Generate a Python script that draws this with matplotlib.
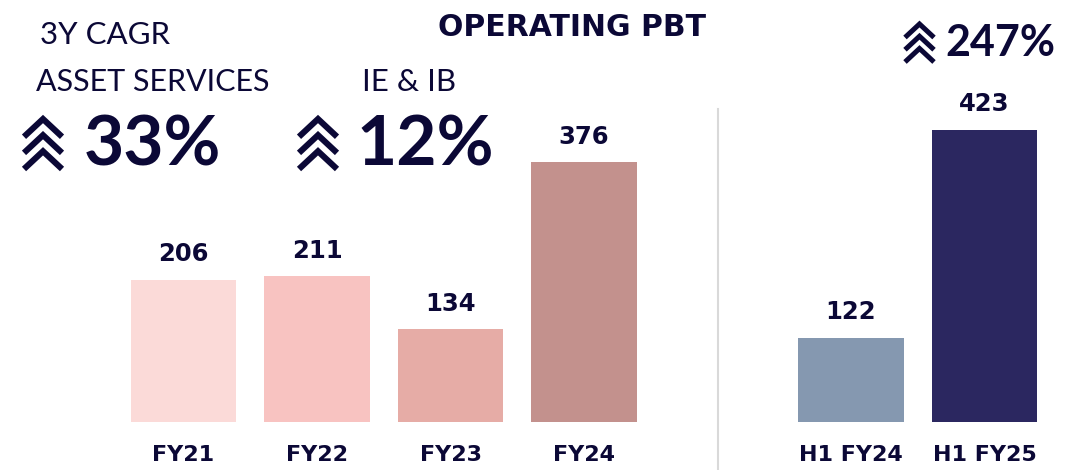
import matplotlib.pyplot as plt
from matplotlib.lines import Line2D

# data
categories = ['FY21', 'FY22', 'FY23', 'FY24', 'H1 FY24', 'H1 FY25']
values = [206, 211, 134, 376, 122, 423]
positions = [0, 1, 2, 3, 5, 6]
colors = ['#FBDAD8', '#F8C3C1', '#E6ACA6', '#C3918D', '#8598B0', '#2B2760']
cagr_labels = ['33%', '12%', '247%']

navy = '#0b0836'
W, H = 1084, 470

fig = plt.figure(figsize=(W / 100, H / 100), dpi=100)
ax = fig.add_axes([0, 0, 1, 1])
ax.set_xlim(-1.375, 6.745)
ax.set_ylim(-69.5, 610.7)
ax.axis('off')

ax.bar(positions, values, width=0.79, color=colors)

for p, v, c in zip(positions, values, categories):
    ax.text(p, v + 27, str(v), ha='center', va='baseline', fontsize=17.5,
            fontweight='bold', color=navy, family='DejaVu Sans')
    ax.text(p, -48, c, ha='center', va='center', fontsize=16,
            fontweight='bold', color=navy, family='DejaVu Sans')

# separator between annual and half-year bars
ax.plot([4, 4], [-69.5, 453], color='#D9D9D9', lw=1.5)


def px(x, y):
    return x / W, 1 - y / H


def chevrons(x0, y0, w, h, lw=4.4):
    # three stacked up-chevrons, x0/y0 top-left in pixels
    step = h / 3.1
    arm = h - 2 * step
    for i in range(3):
        top = y0 + i * step
        xs = [x0, x0 + w / 2, x0 + w]
        ys = [top + arm, top, top + arm]
        pts = [px(a, b) for a, b in zip(xs, ys)]
        fig.add_artist(Line2D([q[0] for q in pts], [q[1] for q in pts],
                              transform=fig.transFigure, color=navy, lw=lw,
                              solid_joinstyle='miter', solid_capstyle='butt'))


def ftext(x, y, s, size, weight='normal', ha='left', family='Lato'):
    fig.text(x / W, 1 - y / H, s, ha=ha, va='center', fontsize=size,
             fontweight=weight, color=navy, family=family)


ftext(572, 27, 'OPERATING PBT', 21.5, 'bold', ha='center', family='DejaVu Sans')
ftext(40, 35, '3Y CAGR', 22.5)
ftext(36, 82, 'ASSET SERVICES', 22)
ftext(362, 82, 'IE & IB', 22.5)

ftext(84, 146, cagr_labels[0], 50, 'bold')
ftext(356, 146, cagr_labels[1], 50, 'bold')
ftext(945, 43, cagr_labels[2], 31, 'bold')

chevrons(24, 119, 38, 50)
chevrons(299, 119, 38, 50)
chevrons(905, 24, 29, 38, lw=3.6)

fig.savefig('out.png', dpi=100)
